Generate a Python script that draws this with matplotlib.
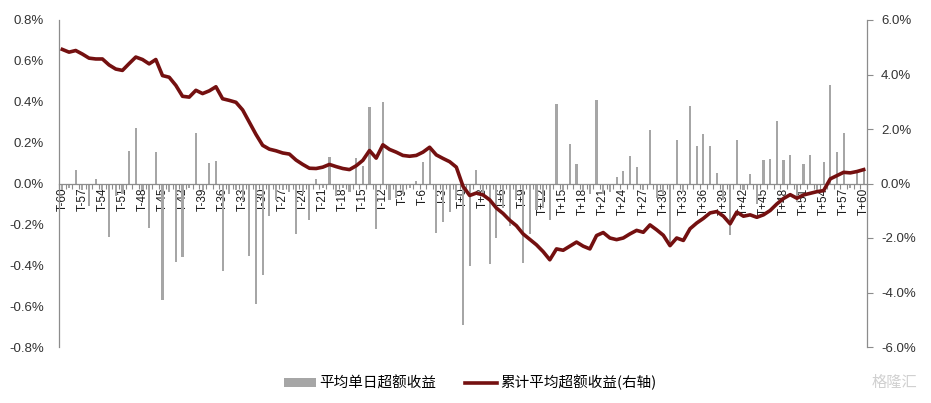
"""Average daily / cumulative excess return around event day T (bars + line on twin axis)."""
import matplotlib
matplotlib.use("Agg")
import matplotlib.pyplot as plt
from matplotlib.ticker import FuncFormatter
from matplotlib.lines import Line2D
from matplotlib.patches import Patch

plt.rcParams["font.family"] = ["Liberation Sans", "Noto Sans CJK SC", "DejaVu Sans"]

# event days T-60 .. T+60
days = [f"T{d:+d}" for d in range(-60, 61)]

# average daily excess return, %
daily_excess = [
    -0.03, -0.02, 0.066, -0.03, -0.11, 0.02, -0.03, -0.26, -0.06, -0.05,
    0.16, 0.27, -0.03, -0.22, 0.155, -0.57, -0.04, -0.385, -0.36, -0.02,
    0.245, -0.03, 0.10, 0.11, -0.43, -0.05, -0.03, -0.08, -0.355, -0.59,
    -0.45, -0.16, -0.08, -0.03, -0.04, -0.245, -0.05, -0.18, 0.02, -0.02,
    0.13, -0.06, -0.02, -0.04, 0.125, 0.085, 0.375, -0.225, 0.40, -0.08,
    -0.07, -0.05, -0.02, 0.01, 0.105, 0.175, -0.24, -0.19, -0.14, -0.08,
    -0.69, -0.405, 0.066, -0.05, -0.395, -0.265, -0.12, -0.21, -0.08, -0.39,
    -0.245, -0.13, -0.12, -0.18, 0.39, -0.03, 0.195, 0.095, -0.03, -0.05,
    0.41, -0.05, -0.04, 0.03, 0.06, 0.135, 0.08, -0.03, 0.26, -0.07,
    -0.05, -0.29, 0.215, -0.04, 0.38, 0.185, 0.24, 0.185, 0.05, -0.08,
    -0.25, 0.215, -0.03, 0.045, -0.10, 0.115, 0.12, 0.305, 0.115, 0.14,
    -0.09, 0.095, 0.14, -0.03, 0.105, 0.48, 0.155, 0.245, -0.02, 0.05,
    0.06,
]

# cumulative average excess return, % (right axis)
cum_excess = [
    4.92, 4.82, 4.88, 4.75, 4.60, 4.57, 4.57, 4.35, 4.20, 4.15,
    4.40, 4.64, 4.55, 4.39, 4.55, 3.96, 3.90, 3.60, 3.20, 3.17,
    3.42, 3.30, 3.40, 3.55, 3.11, 3.05, 2.98, 2.70, 2.25, 1.80,
    1.40, 1.26, 1.20, 1.12, 1.08, 0.86, 0.70, 0.56, 0.55, 0.60,
    0.70, 0.62, 0.55, 0.51, 0.65, 0.85, 1.21, 0.93, 1.42, 1.25,
    1.15, 1.03, 1.00, 1.03, 1.15, 1.33, 1.05, 0.92, 0.80, 0.60,
    -0.10, -0.44, -0.35, -0.42, -0.60, -0.90, -1.10, -1.35, -1.55, -1.85,
    -2.05, -2.25, -2.50, -2.80, -2.40, -2.45, -2.30, -2.15, -2.30, -2.40,
    -1.91, -1.80, -2.00, -2.06, -2.00, -1.85, -1.72, -1.79, -1.52, -1.70,
    -1.90, -2.28, -2.00, -2.09, -1.66, -1.45, -1.28, -1.08, -1.03, -1.20,
    -1.48, -1.05, -1.20, -1.15, -1.24, -1.15, -0.99, -0.75, -0.55, -0.41,
    -0.54, -0.42, -0.36, -0.30, -0.26, 0.17, 0.29, 0.41, 0.39, 0.44,
    0.51,
]

BAR_LABEL = "平均单日超额收益"
LINE_LABEL = "累计平均超额收益(右轴)"

GREY = "#a6a6a6"
AXIS = "#8c8c8c"
RED = "#741010"

x = list(range(len(days)))
pct = FuncFormatter(lambda v, _: f"{v:.1f}%")

fig = plt.figure(figsize=(9.31, 4.03), dpi=100)
ax = fig.add_axes([59 / 931, 1 - 347 / 403, (867 - 59) / 931, (347 - 20) / 403])

ax.bar(x, daily_excess, width=0.32, color=GREY, zorder=2)
ax.set_xlim(-0.5, len(days) - 0.5)
ax.set_ylim(-0.8, 0.8)
ax.set_yticks([-0.8, -0.6, -0.4, -0.2, 0.0, 0.2, 0.4, 0.6, 0.8])
ax.yaxis.set_major_formatter(pct)
ax.tick_params(axis="y", length=0, pad=11, labelsize=9.5, labelcolor="#333333")

# category axis sits on the zero line
ax.spines["bottom"].set_position(("data", 0))
for side in ("top", "right"):
    ax.spines[side].set_visible(False)
for side in ("left", "bottom"):
    ax.spines[side].set_color(AXIS)
    ax.spines[side].set_linewidth(0.9)

ax.set_xticks([i - 0.5 for i in range(len(days) + 1)])
ax.set_xticklabels([])
ax.tick_params(axis="x", which="major", length=3.5, width=0.8, color=AXIS, direction="out")
ax.set_xticks(x[::3], minor=True)
ax.set_xticklabels(days[::3], minor=True, rotation=90, va="top", ha="center")
ax.tick_params(axis="x", which="minor", length=0, pad=3, labelsize=8.5, labelcolor="#1a1a1a")

ax2 = ax.twinx()
ax2.plot(x, cum_excess, color=RED, linewidth=2.6, solid_joinstyle="round", zorder=3)
ax2.set_ylim(-6, 6)
ax2.set_yticks([-6, -4, -2, 0, 2, 4, 6])
ax2.yaxis.set_major_formatter(pct)
ax2.tick_params(axis="y", length=4, width=0.8, color=AXIS, pad=6, labelsize=9.5,
                labelcolor="#333333")
for side in ("top", "left", "bottom"):
    ax2.spines[side].set_visible(False)
ax2.spines["right"].set_color(AXIS)
ax2.spines["right"].set_linewidth(0.9)

handles = [Patch(facecolor=GREY, edgecolor="none"),
           Line2D([], [], color=RED, linewidth=2.6)]
fig.legend(handles, [BAR_LABEL, LINE_LABEL], loc="center", bbox_to_anchor=(0.505, 0.05),
           ncol=2, frameon=False, handlelength=2.2, handleheight=0.5,
           handletextpad=0.2, columnspacing=2.0,
           prop={"family": ["Noto Sans CJK SC", "DejaVu Sans"], "size": 10.5})

fig.text(0.985, 0.05, "格隆汇", ha="right", va="center", fontsize=11, color="#d0d0d0",
         family=["Noto Sans CJK SC", "DejaVu Sans"])

fig.savefig("out.png", dpi=100)
